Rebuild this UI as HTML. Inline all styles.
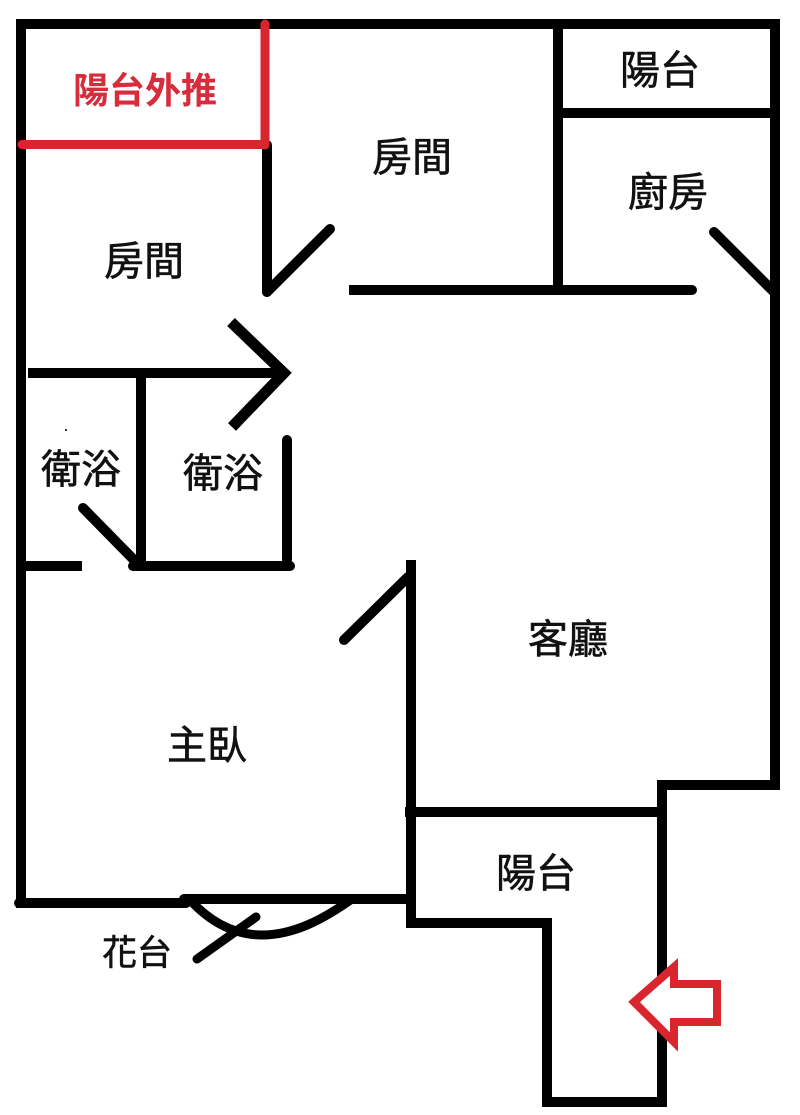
<!DOCTYPE html>
<html>
<head>
<meta charset="utf-8">
<style>
html,body{margin:0;padding:0;background:#fff;width:800px;height:1115px;overflow:hidden}
svg{display:block}
text{font-family:"Liberation Sans","Noto Sans CJK TC",sans-serif;font-size:40px;fill:#111;stroke:#111;stroke-width:.6px;text-anchor:middle;font-weight:400}
</style>
</head>
<body>
<svg width="800" height="1115" viewBox="0 0 800 1115" xmlns="http://www.w3.org/2000/svg">
<rect width="800" height="1115" fill="#fff"/>
<g fill="none" stroke="#000" stroke-width="10" stroke-linejoin="miter" stroke-linecap="butt">
  <path d="M21 19V908"/>
  <path d="M16 24H780"/>
  <path d="M775 19V788"/>
  <path d="M657 785H780"/>
  <path d="M662 780V1107"/>
  <path d="M405 812H667"/>
  <path d="M411 560V927"/>
  <path d="M406 923H552"/>
  <path d="M547 918V1107"/>
  <path d="M543 1102H667"/>
  <path d="M19 903H186" stroke-linecap="round"/>
  <path d="M184 899H408" stroke-linecap="round"/>
  <path d="M558 24V290"/>
  <path d="M553 113H773"/>
  <path d="M349 290H692"/>
  <path d="M692 290H692" stroke-linecap="round"/>
  <path d="M267 145V292" stroke-linecap="round"/>
  <path d="M267 292L330 229" stroke-linecap="round"/>
  <path d="M714 232L775 293" stroke-linecap="round"/>
  <path d="M28 373H282"/>
  <path d="M231 322L284 373L232 427" stroke-width="11"/>
  <path d="M141 373V566"/>
  <path d="M133 566H290" stroke-linecap="round"/>
  <path d="M21 566H82"/>
  <path d="M287 440V560" stroke-linecap="round"/>
  <path d="M83 508L137 563" stroke-linecap="round"/>
  <path d="M344 640L408 577" stroke-linecap="round"/>
  <path d="M190 900C215 927 240 935 262 935C295 935 325 918 352 899" stroke-width="9"/>
  <path d="M197 959L256 917" stroke-width="9" stroke-linecap="round"/>
</g>
<rect x="65" y="429" width="2" height="2" fill="#333"/>
<g fill="none" stroke="#d9252e">
  <path d="M265 24V145" stroke-width="9" stroke-linecap="round"/>
  <path d="M22 144.500H265" stroke-width="9" stroke-linecap="round"/>
  <path d="M634 1002L674 967V984H717V1022H674V1042Z" fill="#fff" stroke-width="8" stroke-linejoin="miter"/>
</g>
<text x="145" y="103" style="fill:#d62c3c;stroke:none;font-size:36px;font-weight:700">陽台外推</text>
<text x="144" y="275">房間</text>
<text x="412" y="171">房間</text>
<text x="660" y="84">陽台</text>
<text x="668" y="206">廚房</text>
<text x="81" y="483">衛浴</text>
<text x="223" y="487">衛浴</text>
<text x="568" y="653">客廳</text>
<text x="207" y="759">主臥</text>
<text x="536" y="887">陽台</text>
<text x="137" y="965" style="font-size:35px">花台</text>
</svg>
</body>
</html>
